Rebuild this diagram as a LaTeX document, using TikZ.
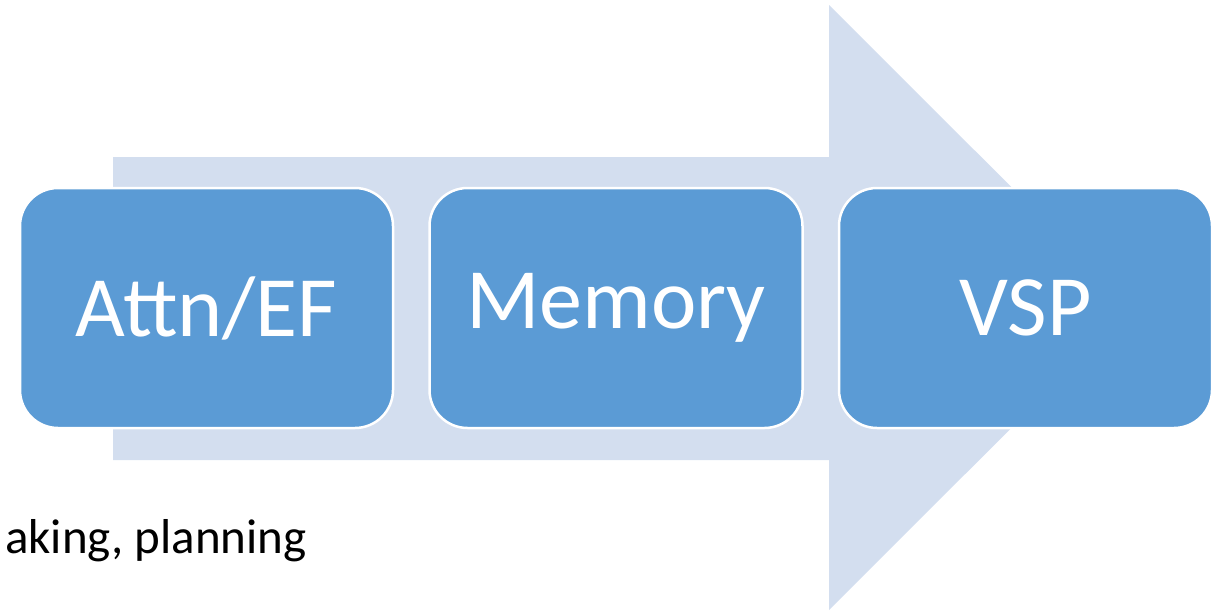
\documentclass[tikz,border=0pt]{standalone}
\usepackage{fontspec}
\setmainfont{Carlito}
\definecolor{shaft}{HTML}{D3DEEF}
\definecolor{stage}{HTML}{5B9BD5}
\tikzset{stagebox/.style={draw=white,line width=2.5pt,fill=stage,rounded corners=38pt,
  minimum width=373pt,minimum height=240pt,text=white,font=\fontsize{86}{86}\selectfont}}
\begin{document}
\begin{tikzpicture}[x=1pt,y=-1pt]
		\useasboundingbox (0,0) rectangle (1225,611);
		\fill [shaft] (113,157) -- (829,157) -- (829,5) -- (1132,307.5) -- (829,610) -- (829,460) -- (113,460) -- cycle;
		
		\node [stagebox] (attn) at (206.5,308) {Attn/EF};
		\node [stagebox] (mem) at (616,308) {Memory};
		\node [stagebox] (vsp) at (1025.5,308) {VSP};
		
		\node [anchor=base east,inner sep=0,font=\fontsize{49}{49}\selectfont] (plan) at (307,553) {aking, planning};
		\end{tikzpicture}
\end{document}
